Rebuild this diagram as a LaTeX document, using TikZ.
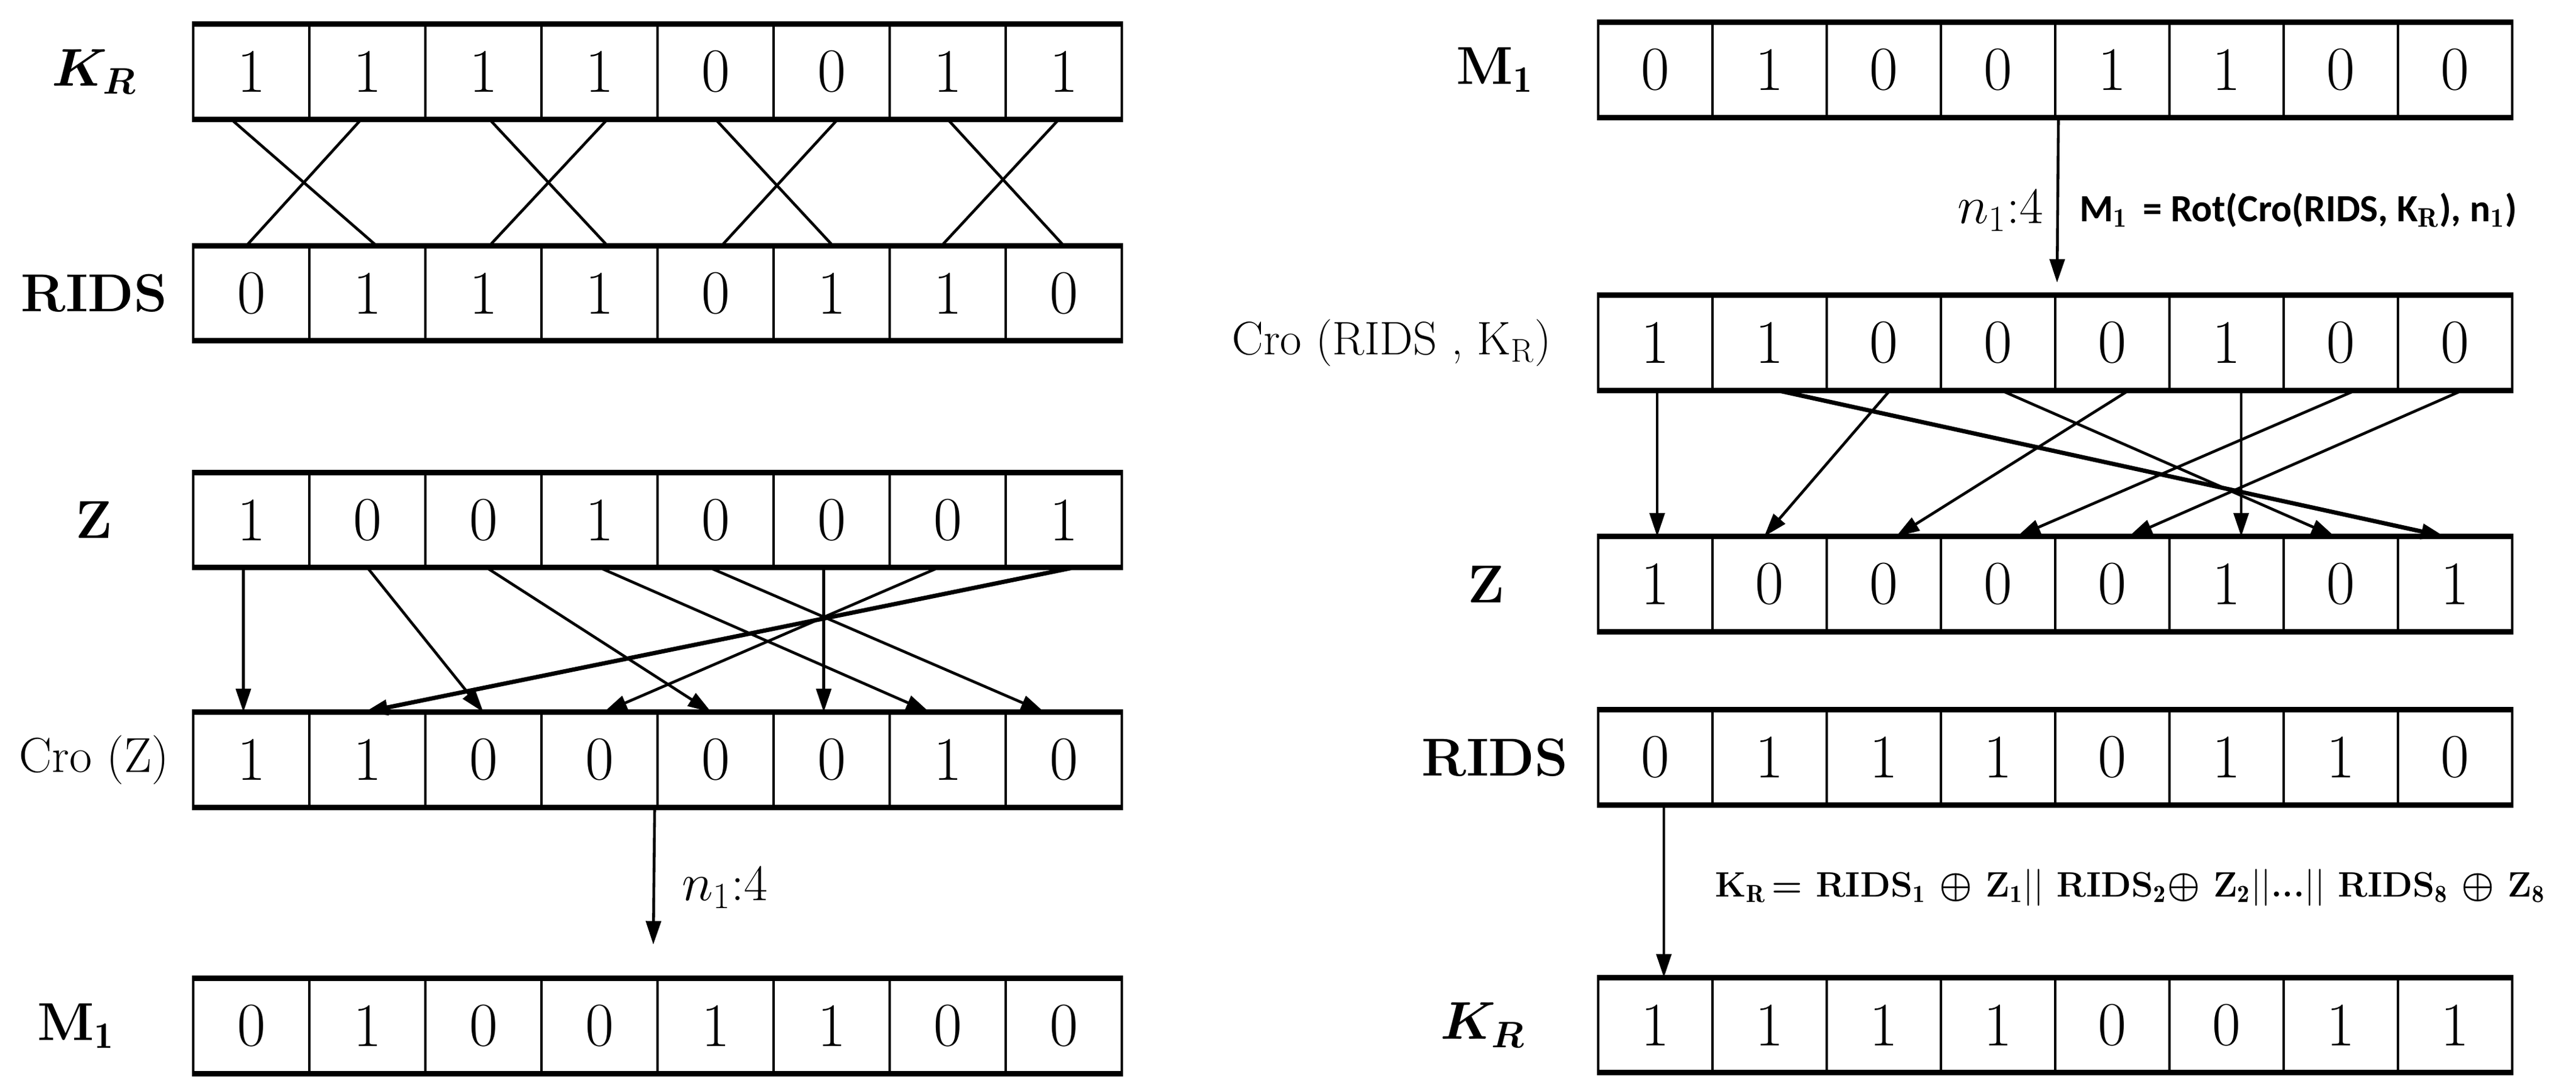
\documentclass[tikz,border=0pt]{standalone}
\usepackage{amsmath}
\usepackage{fontspec}
\newfontfamily\calib{Carlito}
\usetikzlibrary{arrows.meta}
\tikzset{
  cell/.style={draw,line width=1.3pt,inner sep=0pt,minimum height=1.52cm,font=\fontsize{29}{34}\selectfont},
  lab/.style={font=\fontsize{25}{30}\selectfont\bfseries},
  crolab/.style={font=\fontsize{23}{28}\selectfont},
  con/.style={line width=1.3pt},
  arr/.style={line width=1.3pt,-{Triangle[length=11pt,width=7pt]}},
  thk/.style={line width=2.4pt}
}
% #1 prefix, #2 left x, #3 centre y, #4 cell width, #5 bits
\newcommand\bitrow[5]{%
  \foreach \v [count=\i] in {#5}
    \node[cell,minimum width=#4 cm] (#1\i) at ({#2+(\i-0.5)*#4},#3) {\v};
  \draw[line width=2.6pt] (#11.north west) -- (#18.north east)
    (#11.south west) -- (#18.south east);}
\begin{document}
\begin{tikzpicture}
\useasboundingbox (0,0) rectangle (42.39,-17.89);
% left half
\bitrow{a}{3.18}{-1.18}{1.91}{1,1,1,1,0,0,1,1}
\bitrow{b}{3.18}{-4.825}{1.91}{0,1,1,1,0,1,1,0}
\bitrow{c}{3.18}{-8.555}{1.91}{1,0,0,1,0,0,0,1}
\bitrow{d}{3.18}{-12.5}{1.91}{1,1,0,0,0,0,1,0}
\bitrow{e}{3.18}{-16.88}{1.91}{0,1,0,0,1,1,0,0}
\node[lab] (la) at (1.55,-1.18) {$\boldsymbol{K_R}$};
\node[lab] (lb) at (1.55,-4.825) {RIDS};
\node[lab] (lc) at (1.55,-8.555) {Z};
\node[crolab] (ld) at (1.55,-12.5) {Cro (Z)};
\node[lab] (le) at (1.25,-16.88) {M$_{\mathbf 1}$};
% KR / RIDS crossings
\draw[con] ([xshift=-0.33cm]a1.south) -- ([xshift=0.15cm]b2.north);
\draw[con] ([xshift=-0.1cm]a2.south) -- ([xshift=-0.08cm]b1.north);
\draw[con] ([xshift=0.1cm]a3.south) -- ([xshift=0.13cm]b4.north);
\draw[con] ([xshift=0.13cm]a4.south) -- ([xshift=0.1cm]b3.north);
\draw[con] (a5.south) -- ([xshift=0.02cm]b6.north);
\draw[con] ([xshift=0.1cm]a6.south) -- ([xshift=0.1cm]b5.north);
\draw[con] (a7.south) -- (b8.north);
\draw[con] ([xshift=-0.08cm]a8.south) -- ([xshift=-0.1cm]b7.north);
% Z -> Cro(Z)
\draw[arr] ([xshift=-0.13cm]c1.south) -- ([xshift=-0.13cm]d1.north);
\draw[arr] (c2.south) -- (d3.north);
\draw[arr] ([xshift=0.05cm]c3.south) -- ([xshift=-0.07cm]d5.north);
\draw[arr] (c4.south) -- ([xshift=-0.3cm]d7.north);
\draw[arr] ([xshift=-0.1cm]c5.south) -- ([xshift=-0.32cm]d8.north);
\draw[arr] ([xshift=-0.13cm]c6.south) -- ([xshift=-0.13cm]d6.north);
\draw[arr] ([xshift=-0.15cm]c7.south) -- ([xshift=0.07cm]d4.north);
\draw[arr,line width=2pt] ([xshift=0.16cm]c8.south) -- ([xshift=-0.05cm]d2.north);
% Cro(Z) -> M1
\coordinate (t1) at (10.75,-15.54);
\draw[arr] ([xshift=-0.07cm]d4.south east) -- (t1);
\node[font=\fontsize{24}{28}\selectfont,anchor=west] (n1) at (11.1,-14.6) {$n_1$:4};
% right half
\bitrow{f}{26.30}{-1.15}{1.88}{0,1,0,0,1,1,0,0}
\bitrow{g}{26.30}{-5.64}{1.88}{1,1,0,0,0,1,0,0}
\bitrow{h}{26.30}{-9.61}{1.88}{1,0,0,0,0,1,0,1}
\bitrow{k}{26.30}{-12.46}{1.88}{0,1,1,1,0,1,1,0}
\bitrow{m}{26.30}{-16.865}{1.88}{1,1,1,1,0,0,1,1}
\node[lab] (lf) at (24.6,-1.15) {M$_{\mathbf 1}$};
\node[crolab,font=\fontsize{22}{27}\selectfont] (lg) at (22.9,-5.64) {Cro (RIDS , K$_\mathrm{R}$)};
\node[lab] (lh) at (24.46,-9.61) {Z};
\node[lab] (lk) at (24.6,-12.46) {RIDS};
\node[lab] (lm) at (24.4,-16.865) {$\boldsymbol{K_R}$};
% M1 -> Cro(RIDS,KR)
\coordinate (t2) at (33.85,-4.65);
\draw[arr] ([xshift=0.03cm]f4.south east) -- (t2);
\node[font=\fontsize{24}{28}\selectfont] (n2) at (32.92,-3.46) {$n_1$:4};
\node[font=\fontsize{18}{22}\selectfont\calib\bfseries,anchor=west] (rot) at (34.1,-3.46)
  {M$_\mathbf{1}$ \,= Rot(Cro(RIDS, K$_\mathbf{R}$), n$_\mathbf{1}$)};
% Cro(RIDS,KR) -> Z
\draw[arr] ([xshift=0.03cm]g1.south) -- ([xshift=0.03cm]h1.north);
\draw[arr] ([xshift=0.1cm]g3.south) -- ([xshift=-0.09cm]h2.north);
\draw[arr] ([xshift=0.27cm]g5.south) -- ([xshift=0.2cm]h3.north);
\draw[arr] ([xshift=0.24cm]g7.south) -- ([xshift=0.31cm]h4.north);
\draw[arr] ([xshift=0.12cm]g8.south) -- ([xshift=0.27cm]h5.north);
\draw[arr] ([xshift=0.24cm]g6.south) -- ([xshift=0.24cm]h6.north);
\draw[arr] ([xshift=0.05cm]g4.south) -- ([xshift=-0.1cm]h7.north);
\draw[arr,line width=2pt] ([xshift=0.13cm]g2.south) -- ([xshift=-0.17cm]h8.north);
% RIDS -> KR
\draw[arr] ([xshift=0.14cm]k1.south) -- ([xshift=0.14cm]m1.north);
\node[font=\fontsize{16.5}{20}\selectfont\bfseries,anchor=west] (xr) at (28.1,-14.6)
  {K$_\mathbf{R}$\,= RIDS$_\mathbf{1}$ $\boldsymbol\oplus$ Z$_\mathbf{1}$$||$ RIDS$_\mathbf{2}$$\boldsymbol\oplus$ Z$_\mathbf{2}$$||$...$||$ RIDS$_\mathbf{8}$ $\boldsymbol\oplus$ Z$_\mathbf{8}$};
\end{tikzpicture}
\end{document}
